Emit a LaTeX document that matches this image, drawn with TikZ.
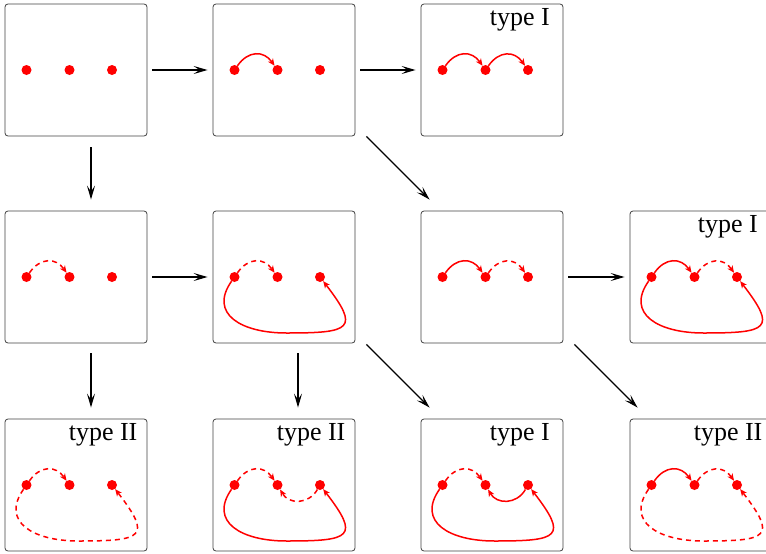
\documentclass[tikz,border=0pt]{standalone}
\usepackage{fontspec}
\setmainfont{Liberation Serif}
\usetikzlibrary{arrows.meta}
\begin{document}
\begin{tikzpicture}[x=1pt,y=-1pt,
  box/.style={draw=black!75, line width=0.8pt, rounded corners=3pt, minimum width=142pt, minimum height=132pt, inner sep=0pt},
  dot/.style={circle, fill=red, inner sep=0pt, minimum size=10pt},
  flow/.style={line width=1.3pt, -{Stealth[length=14pt,width=8pt,inset=6pt]}},
  rl/.style={red, line width=1.5pt, -{Stealth[length=7pt,width=6pt,inset=2pt]}},
  rd/.style={rl, dash pattern=on 5pt off 4pt},
  lab/.style={anchor=base west, inner sep=0pt, font=\fontsize{26}{30}\selectfont}]
\useasboundingbox (0,0) rectangle (766,554);
\clip (0,0) rectangle (766,554);

% boxes
\node[box] (b11) at (76,70) {};
\node[box] (b12) at (284,70) {};
\node[box] (b13) at (492,70) {};
\node[box] (b21) at (76,277) {};
\node[box] (b22) at (284,277) {};
\node[box] (b23) at (492,277) {};
\node[box] (b24) at (701,277) {};
\node[box] (b31) at (76,485) {};
\node[box] (b32) at (284,485) {};
\node[box] (b33) at (492,485) {};
\node[box] (b34) at (701,485) {};

% dots
\foreach \bx in {b11,b12,b13,b21,b22,b23,b24,b31,b32,b33,b34}{
  \node[dot] (\bx a) at ([shift={(-49.5,0)}]\bx.center) {};
  \node[dot] (\bx b) at ([shift={(-6.5,0)}]\bx.center) {};
  \node[dot] (\bx c) at ([shift={(36,0)}]\bx.center) {};
  \coordinate (\bx m) at ([shift={(2.5,56)}]\bx.center);
}

\newcommand\toparc[3]{\draw[#3] (#1) to[out=55,in=125,looseness=1.3] (#2);}
\newcommand\lowarc[3]{\draw[#3] (#1) to[out=-120,in=-60,looseness=1.2] (#2);}
\newcommand\bigloop[2]{\draw[#2] (#1a) .. controls +(-26,37) and +(-45,0) .. (#1m) .. controls +(65,0) and +(40,52) .. (#1c);}

% red content
\toparc{b12a}{b12b}{rl}
\toparc{b13a}{b13b}{rl}
\toparc{b13b}{b13c}{rl}
\toparc{b21a}{b21b}{rd}
\toparc{b22a}{b22b}{rd}
\bigloop{b22}{rl}
\toparc{b23a}{b23b}{rl}
\toparc{b23b}{b23c}{rd}
\toparc{b24a}{b24b}{rl}
\toparc{b24b}{b24c}{rd}
\bigloop{b24}{rl}
\toparc{b31a}{b31b}{rd}
\bigloop{b31}{rd}
\toparc{b32a}{b32b}{rd}
\bigloop{b32}{rl}
\lowarc{b32c}{b32b}{rd}
\toparc{b33a}{b33b}{rd}
\bigloop{b33}{rl}
\lowarc{b33c}{b33b}{rl}
\toparc{b34a}{b34b}{rl}
\toparc{b34b}{b34c}{rd}
\bigloop{b34}{rd}

% labels
\node[lab] (t13) at ([shift={(69,22)}]b13.north west) {type I};
\node[lab] (t24) at ([shift={(68,22)}]b24.north west) {type I};
\node[lab] (t31) at ([shift={(64,22)}]b31.north west) {type II};
\node[lab] (t32) at ([shift={(64,22)}]b32.north west) {type II};
\node[lab] (t33) at ([shift={(69,22)}]b33.north west) {type I};
\node[lab] (t34) at ([shift={(64,22)}]b34.north west) {type II};

% flow arrows
\draw[flow, shorten <=5pt, shorten >=5pt] (b11.east) -- (b12.west);
\draw[flow, shorten <=5pt, shorten >=5pt] (b12.east) -- (b13.west);
\draw[flow, shorten <=5pt, shorten >=5pt] (b21.east) -- (b22.west);
\draw[flow, shorten <=5pt, shorten >=5pt] (b23.east) -- (b24.west);
\draw[flow] ([shift={(15,11)}]b11.south) -- ([shift={(15,-11)}]b21.north);
\draw[flow] ([shift={(15,10)}]b21.south) -- ([shift={(15,-11)}]b31.north);
\draw[flow] ([shift={(14,10)}]b22.south) -- ([shift={(14,-11)}]b32.north);
\draw[flow] ([shift={(11,0)}]b12.south east) -- ([shift={(9,-11)}]b23.north west);
\draw[flow] ([shift={(11,1)}]b22.south east) -- ([shift={(9,-11)}]b33.north west);
\draw[flow] ([shift={(11,1)}]b23.south east) -- ([shift={(8,-11)}]b34.north west);
\end{tikzpicture}
\end{document}
